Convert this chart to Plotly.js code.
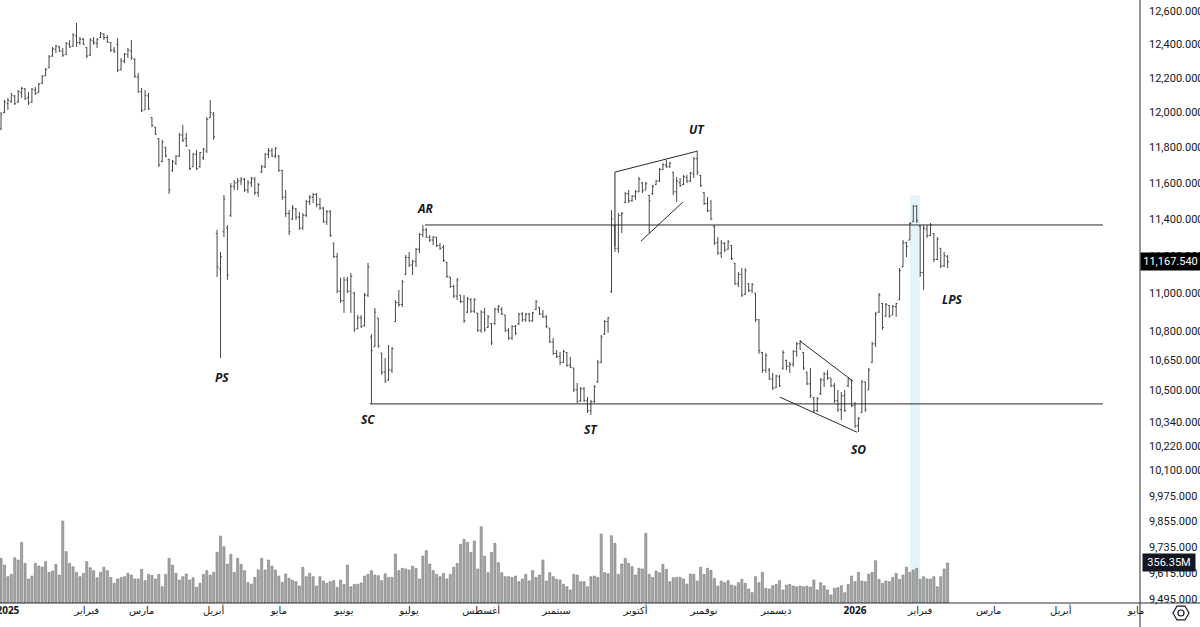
<!DOCTYPE html>
<html><head><meta charset="utf-8">
<script src="https://cdn.plot.ly/plotly-3.0.1.min.js"></script>
<style>html,body{margin:0;padding:0;background:#fff;}#chart{width:1200px;height:627px;}</style>
</head><body><div id="chart"></div>
<script>
// ---- daily OHLC (trading-day index) ----
const open=[
11905,12000,12050,12065,12095,12060,12115,12135,12085,12060,
12130,12115,12170,12215,12260,12330,12370,12385,12360,12340,
12400,12390,12450,12410,12430,12380,12335,12420,12405,12440,
12460,12440,12410,12365,12400,12250,12300,12340,12360,12310,
12205,12120,12015,12095,11970,11915,11850,11720,11800,11730,
11670,11710,11750,11870,11850,11785,11690,11760,11690,11740,
11780,11970,11990,11320,11130,11330,11350,11420,11580,11600,
11610,11620,11560,11600,11620,11545,11660,11690,11760,11780,
11750,11750,11670,11520,11430,11400,11455,11410,11350,11420,
11495,11520,11535,11480,11460,11385,11440,11269,11195,11010,
10960,11070,11010,11000,10815,10870,10830,10990,10770,10720,
10870,10688,10590,10550,10600,10850,10950,10940,11100,11190,
11150,11170,11235,11315,11340,11300,11285,11300,11255,
11245,11165,11085,11035,10985,10990,10955,10900,
10965,10905,10895,10805,10900,10820,10840,10840,10915,
10915,10885,10805,10765,10825,10840,10890,10860,10890,10855,10915,
10925,10890,10875,10817,10745,10685,10670,10640,10690,10625,
10611,10500,10445,10505,10445,10395,10440,10540,10640,10785,
10850,11010,11360,11240,11420,11490,11540,11500,11525,11550,
11600,11560,
11530,11540,11590,11610,11675,11700,11690,
11660,11550,11600,11590,11630,11610,11650,11735,11640,11545,
11485,11445,11360,11270,11215,11265,11235,
11255,11160,11050,11100,10995,11050,11015,11000,10860,10690,10600,
10600,10555,10510,10565,10610,10650,10620,10630,10695,10735,
10690,10590,10530,10460,10395,10480,10550,10580,
10560,10520,10445,10400,10470,10520,10550,10420,10320,10385,10540,
10500,10640,10735,10900,10945,10880,10935,10885,10930,10965,
11140,11270,11285,11385,11470,11360,11110,11345,11310,11320,
11180,11240,11145,11195];
const high=[
12002,12072,12084,12113,12101,12130,12148,12142,12119,12142,
12148,12171,12218,12259,12336,12384,12396,12390,12378,12413,
12425,12467,12528,12443,12437,12384,12437,12443,12437,12473,
12467,12455,12413,12384,12437,12318,12348,12378,12425,12318,
12230,12142,12130,12113,11973,11916,11853,11842,11802,11735,
11728,11756,11882,11927,11882,11785,11768,11785,11773,11796,
11973,12072,12002,11340,11220,11532,11367,11599,11616,11627,
11633,11627,11616,11633,11633,11599,11700,11768,11796,11796,
11802,11756,11672,11560,11449,11477,11460,11438,11433,11505,
11532,11543,11543,11516,11466,11449,11449,11269,11215,11081,
11086,11086,11107,11006,10885,10885,11001,11161,10785,10922,
10870,10688,10662,10729,10719,10964,11017,11070,11204,11220,
11177,11242,11323,11367,11351,11312,11307,11301,11269,
11258,11166,11086,11044,11081,10990,10990,10980,
10974,10974,10896,10911,10922,10885,10843,10922,10937,
10927,10885,10817,10833,10833,10896,10901,10896,10896,10901,10964,
10927,10911,10885,10817,10766,10703,10693,10703,10693,10668,
10611,10535,10514,10514,10464,10449,10524,10652,10781,10859,
10875,11449,11367,11433,11438,11549,11560,11532,11560,11633,
11605,11605,
11532,11588,11616,11683,11711,11728,11717,
11661,11633,11627,11644,11644,11661,11745,11773,11644,11549,
11521,11505,11367,11301,11285,11274,11285,
11258,11161,11113,11134,11134,11054,11054,11001,10864,10693,10688,
10611,10586,10576,10576,10703,10652,10642,10703,10745,10755,
10693,10591,10611,10464,10464,10560,10591,10601,
10560,10535,10499,10489,10499,10560,10550,10439,10364,10550,10540,
10611,10745,10901,11001,10948,10948,10937,10937,10948,11134,
11285,11274,11383,11477,11477,11367,11367,11367,11378,11323,
11301,11242,11220,11204];
const low=[
11899,11995,12014,12055,12043,12055,12084,12072,12043,12055,
12101,12113,12165,12210,12259,12325,12348,12354,12324,12335,
12378,12384,12384,12396,12396,12318,12330,12396,12378,12437,
12425,12408,12354,12348,12235,12245,12288,12318,12306,12200,
12113,12002,12014,12014,11916,11870,11689,11715,11745,11538,
11661,11700,11745,11830,11802,11672,11689,11672,11685,11728,
11768,11967,11842,11086,10662,11301,11070,11411,11560,11560,
11588,11549,11543,11577,11532,11521,11655,11683,11739,11745,
11739,11661,11505,11411,11312,11394,11394,11340,11340,11411,
11477,11488,11466,11449,11378,11367,11301,11188,11001,10948,
10896,11001,10896,10797,10810,10817,10825,10980,10429,10719,
10714,10576,10535,10545,10586,10849,10927,10927,11096,11139,
11096,11139,11215,11301,11296,11274,11258,11247,11231,
11166,11081,11028,10974,10964,10948,10843,10895,
10896,10896,10797,10792,10797,10817,10729,10833,10896,
10885,10797,10755,10755,10781,10833,10849,10849,10849,10849,10911,
10885,10870,10817,10740,10678,10662,10627,10637,10617,10611,
10489,10434,10440,10439,10384,10374,10434,10535,10637,10781,
10792,11001,11220,11215,11323,11488,11488,11494,11505,11549,
11543,11560,
11323,11532,11588,11605,11672,11683,11683,
11532,11494,11577,11588,11599,11605,11627,11644,11577,11477,
11438,11394,11258,11204,11188,11220,11231,
11177,11044,11033,10980,10990,11006,11001,10849,10683,10586,10586,
10550,10499,10509,10514,10601,10601,10586,10617,10668,10703,
10601,10524,10459,10384,10389,10474,10514,10550,
10514,10434,10389,10349,10389,10514,10414,10309,10289,10384,10389,
10499,10637,10719,10895,10807,10875,10870,10885,10875,10964,
11139,11193,11285,11383,11378,11086,11017,11296,11305,11166,
11177,11134,11139,11134];
const close=[
11990,12060,12070,12100,12050,12120,12140,12080,12055,12135,
12110,12165,12210,12250,12325,12375,12390,12360,12335,12405,
12385,12455,12410,12430,12400,12330,12425,12410,12430,12465,
12440,12415,12365,12355,12245,12300,12340,12365,12320,12210,
12120,12010,12100,12020,11925,11875,11700,11830,11750,11560,
11720,11750,11870,11840,11810,11680,11760,11680,11770,11790,
11960,12000,11860,11140,11195,11510,11096,11580,11600,11610,
11620,11560,11600,11625,11545,11590,11690,11760,11780,11750,
11795,11670,11520,11430,11330,11460,11410,11350,11420,11495,
11520,11535,11480,11460,11385,11440,11310,11195,11010,10960,
11070,11010,11090,10810,10870,10825,10990,11140,10700,10900,
10725,10590,10545,10600,10710,10950,10940,11060,11190,11150,
11170,11235,11315,11340,11300,11285,11300,11255,11240,
11175,11090,11035,10985,11070,10955,10855,10970,
10905,10965,10805,10900,10810,10875,10740,10915,10930,
10890,10805,10765,10825,10790,10890,10860,10890,10855,10895,10955,
10890,10875,10825,10745,10685,10670,10640,10695,10625,10615,
10500,10440,10505,10445,10395,10440,10515,10640,10770,10850,
10870,11400,11240,11420,11430,11540,11500,11525,11550,11620,
11555,11595,
11500,11580,11610,11675,11700,11690,11710,
11550,11610,11585,11635,11610,11655,11735,11660,11585,11485,
11445,11400,11270,11215,11270,11230,11275,
11185,11050,11100,10990,11120,11015,11045,10860,10700,10600,10675,
10555,10510,10570,10520,10690,10620,10630,10695,10735,10745,
10610,10530,10470,10395,10455,10550,10580,10560,
10520,10445,10400,10470,10395,10555,10420,10320,10355,10540,10400,
10600,10735,10890,10990,10820,10940,10880,10930,10945,11120,
11270,11250,11375,11470,11390,11110,11350,11310,11370,11180,
11290,11145,11200,11167.54];
// ---- volume (millions) ----
const volume=[
398,338,234,255,403,383,540,353,214,240,
353,329,320,368,273,285,344,249,730,457,
353,323,273,234,264,368,314,288,225,273,
318,288,228,175,214,228,234,264,249,214,
214,300,199,255,246,214,255,145,255,398,
338,264,205,234,258,205,225,140,175,255,
288,249,273,451,596,501,347,433,273,398,
344,288,181,169,228,294,398,294,383,329,
294,240,184,258,219,202,190,151,318,234,
264,234,151,234,196,175,190,199,140,205,
166,338,145,166,166,178,240,255,288,249,
243,199,261,228,228,436,288,309,303,294,
329,309,214,418,466,347,288,255,234,264,
214,255,318,353,522,567,540,451,552,303,
679,418,270,451,531,359,270,234,234,228,
240,190,214,255,196,288,228,249,383,196,
270,234,211,205,166,145,116,255,249,190,
190,145,234,240,228,614,270,261,599,531,
255,347,398,353,323,249,309,303,620,255,
228,285,270,344,300,190,225,228,228,214,
169,258,255,196,318,255,309,291,219,151,
196,181,199,160,151,181,211,175,125,92,
234,181,273,131,125,154,166,199,116,160,
166,151,145,151,145,151,142,205,116,181,
154,116,71,131,136,154,92,166,240,190,
273,196,190,258,273,377,211,175,196,190,
228,264,211,249,318,273,294,309,211,234,
214,214,234,145,234,303,356.35];
// ---- axis labels ----
const monthTickIndex=[2,25,41,62,81,100,119,140,162,185,205,226,249,268,288,309,331];
const monthTickText=['<b>2025</b>','فبراير','مارس','أبريل','مايو','يونيو','يوليو','أغسطس','سبتمبر','أكتوبر','نوفمبر','ديسمبر','<b>2026</b>','فبراير','مارس','أبريل','مايو'];
const priceTicks=[9495,9615,9735,9855,9975,10100,10220,10340,10500,10650,10800,11000,11200,11400,11600,11800,12000,12200,12400,12600];
const lastPrice=11167.54, lastVolume=356.35;
// ---- Wyckoff annotations ----
const arLevel=11367, scLevel=10429;
const wyLabels=[['PS',64.4,10564],['SC',107,10353],['AR',123.9,11460],['ST',172,10303],['UT',202.9,11899],['SO',249.9,10204],['LPS',277.5,10969]];

const idx=open.map((_,i)=>i);
const fmt=v=>v.toLocaleString('en-US',{minimumFractionDigits:3,maximumFractionDigits:3});
const lineCol='#2a2a2a';
function seg(x,y){return {type:'scatter',mode:'lines',x:x,y:y,line:{color:lineCol,width:1},hoverinfo:'skip'};}

const traces=[
 {type:'bar',x:idx,y:volume,yaxis:'y2',width:0.62,marker:{color:'#a6a6a6',line:{color:'#7a7a7a',width:0.6}},hoverinfo:'skip'},
 {type:'ohlc',x:idx,open:open,high:high,low:low,close:close,tickwidth:0.4,
  increasing:{line:{color:'#474747',width:1}},decreasing:{line:{color:'#474747',width:1}},hoverinfo:'skip'},
 seg([123.6,321.3],[arLevel,arLevel]),
 seg([107.6,321.3],[scLevel,scLevel]),
 seg([179,179,203.2],[11250,11660,11779]),
 seg([186.6,198.8],[11279,11493]),
 seg([233,248.4],[10749,10544]),
 seg([227.1,249.6],[10463,10288])
];

const W=1140,H=603;
const px=X=>X/W, py=Y=>(H-Y)/H;
const cx=1181,cy=613,r=8;
let hex='';
for(let k=0;k<6;k++){const a=Math.PI/3*k;const X=cx+r*Math.cos(a),Y=cy+r*Math.sin(a);hex+=(k?'L':'M')+px(X)+','+py(Y)+' ';}
hex+='Z';

const shapes=[
 {type:'rect',xref:'x',yref:'paper',x0:265,x1:267.9,y0:0,y1:py(195),fillcolor:'#e3f4fb',line:{width:0},layer:'below'},
 {type:'line',xref:'paper',yref:'paper',x0:1,x1:1,y0:-24/H,y1:1,line:{color:'#2a2e39',width:1}},
 {type:'line',xref:'paper',yref:'paper',x0:0,x1:1200/W,y0:0,y1:0,line:{color:'#2a2e39',width:1}},
 {type:'path',xref:'paper',yref:'paper',path:hex,line:{color:'#131722',width:1.2}},
 {type:'circle',xref:'paper',yref:'paper',x0:px(cx-3),x1:px(cx+3),y0:py(cy+3),y1:py(cy-3),line:{color:'#131722',width:1.2}}
];

const annotations=wyLabels.map(([t,x,p])=>({xref:'x',yref:'y',x:x,y:Math.log10(p),text:'<b><i>'+t+'</i></b>',showarrow:false,
  font:{family:'Open Sans, Liberation Sans, sans-serif',size:12,color:'#131722'}}));
annotations.push({xref:'paper',yref:'y',x:1,xanchor:'left',y:Math.log10(lastPrice),text:fmt(lastPrice),showarrow:false,
  bgcolor:'#000000',borderpad:2,width:55,font:{family:'Roboto, sans-serif',size:11,color:'#ffffff'}});
annotations.push({xref:'paper',yref:'y2',x:1,xanchor:'left',xshift:2,y:lastVolume,text:lastVolume.toFixed(2)+'M',showarrow:false,
  bgcolor:'#131722',borderpad:2,width:48,font:{family:'Roboto, sans-serif',size:11,color:'#ffffff'}});

const layout={
 width:1200,height:627,margin:{l:0,r:60,t:0,b:24},paper_bgcolor:'#ffffff',plot_bgcolor:'#ffffff',showlegend:false,
 xaxis:{range:[-0.3,332.1],tickmode:'array',tickvals:monthTickIndex,ticktext:monthTickText,showgrid:false,zeroline:false,showline:false,ticks:'',
   ticklabeloverflow:'allow',
   tickfont:{family:'Noto Sans, DejaVu Sans, sans-serif',size:10,color:'#131722'},rangeslider:{visible:false},fixedrange:true},
 yaxis:{type:'log',side:'right',range:[Math.log10(9476),Math.log10(12667)],tickmode:'array',tickvals:priceTicks,ticktext:priceTicks.map(fmt),
   showgrid:false,zeroline:false,showline:false,ticks:'',ticklabelstandoff:8,ticklabeloverflow:'allow',
   tickfont:{family:'Roboto, sans-serif',size:11,color:'#131722'},fixedrange:true},
 yaxis2:{overlaying:'y',range:[0,5368],visible:false,fixedrange:true},
 bargap:0.3,shapes:shapes,annotations:annotations
};
Plotly.newPlot('chart',traces,layout,{staticPlot:true,displayModeBar:false});
</script></body></html>
